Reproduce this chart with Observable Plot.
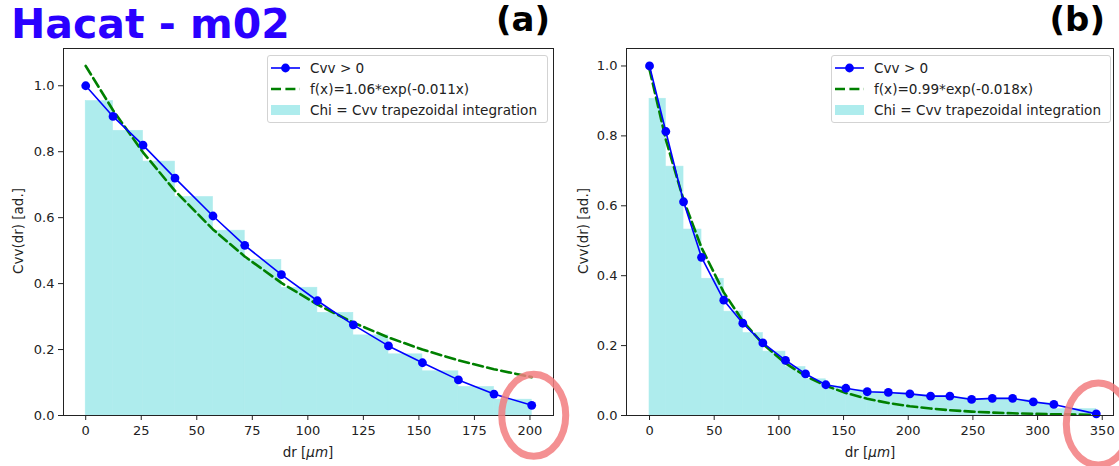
<!DOCTYPE html>
<html>
<head>
<meta charset="utf-8">
<script src="https://cdn.jsdelivr.net/npm/d3@7"></script>
<script src="https://cdn.jsdelivr.net/npm/@observablehq/plot@0.6"></script>
<style>
  body { margin: 0; background: #fff; }
  #root { position: relative; width: 1119px; height: 466px; overflow: hidden; font-family: "DejaVu Sans", sans-serif; color: #222; }
  .abs { position: absolute; white-space: nowrap; }
  .title { left: 11px; top: 0px; font-size: 41px; font-weight: bold; color: #2a00ff; }
  .panel { font-size: 34px; font-weight: bold; color: #000; }
  .ylab { font-size: 13.5px; transform: translate(-50%, -50%) rotate(-90deg); }
  .xlab { font-size: 13.5px; transform: translate(-50%, -50%); }
  .legend { border: 1px solid #d3d3d3; border-radius: 3px; background: rgba(255,255,255,0.85); height: 66px; font-size: 13.6px; }
  .row { position: absolute; left: 0; height: 20px; transform: translateY(-50%); display: flex; align-items: center; }
  .row svg { flex: none; }
  .row span { margin-left: 10px; }
</style>
</head>
<body>
<div id="root">
  <div id="pa" class="abs" style="left:0;top:0"></div>
  <div id="pb" class="abs" style="left:560px;top:0"></div>
  <div class="abs title">Hacat - m02</div>
  <div class="abs panel" style="right:569px;top:-1px">(a)</div>
  <div class="abs panel" style="right:14px;top:-1px">(b)</div>
  <div class="abs ylab" style="left:18px;top:231px">Cvv(dr) [ad.]</div>
  <div class="abs ylab" style="left:583px;top:231px">Cvv(dr) [ad.]</div>
  <div class="abs xlab" style="left:308px;top:452px">dr [<i>μm</i>]</div>
  <div class="abs xlab" style="left:870px;top:452px">dr [<i>μm</i>]</div>
  <div id="lega" class="abs legend" style="left:267px;top:55px;width:279px"></div>
  <div id="legb" class="abs legend" style="left:831px;top:55px;width:278px"></div>
</div>
<script>
// ---- data ----
const drA = [0, 12.3, 25.8, 40.2, 57.3, 71.6, 88.1, 104.3, 120.5, 136.3, 151.6, 167.8, 183.8, 200.8];
const cvvA = [1.0, 0.907, 0.82, 0.72, 0.605, 0.516, 0.427, 0.348, 0.275, 0.211, 0.16, 0.108, 0.065, 0.031];
const drB = [0, 12.6, 26.3, 40.2, 57.4, 72.1, 87.6, 105.1, 120.6, 136.3, 151.8, 168.3, 184.6, 201.3, 217.3, 232.2, 249.0, 265.0, 280.7, 296.7, 312.6, 345.4];
const cvvB = [1.0, 0.8125, 0.6115, 0.4525, 0.330, 0.264, 0.2076, 0.158, 0.119, 0.088, 0.078, 0.068, 0.066, 0.062, 0.0554, 0.0554, 0.046, 0.049, 0.049, 0.039, 0.0316, 0.0046];
// fit parameters shown in the legends
const fitAmp = [1.06, 0.99];
const fitRate = [-0.011, -0.018];
const fitLabels = ["f(x)=1.06*exp(-0.011x)", "f(x)=0.99*exp(-0.018x)"];
const seriesLabels = ["Cvv > 0", "Chi = Cvv trapezoidal integration"];
const xTicksA = [0, 25, 50, 75, 100, 125, 150, 175, 200];
const xTicksB = [0, 50, 100, 150, 200, 250, 300, 350];
const yTicks = [0, 0.2, 0.4, 0.6, 0.8, 1.0];

const BLUE = "#0000ff", GREEN = "#008000", CYAN = "#aeeced", HIGHLIGHT = "#f27d7f";

// hand-drawn style highlight loop around the last point
const loopSymbol = {
  draw(ctx) {
    const rx = 32, ry = 41, k = 0.5523;
    ctx.moveTo(rx, 0);
    ctx.bezierCurveTo(rx, ry * k, rx * k, ry, 0, ry);
    ctx.bezierCurveTo(-rx * k, ry, -rx, ry * k, -rx, 0);
    ctx.bezierCurveTo(-rx, -ry * k, -rx * k, -ry, 0, -ry);
    ctx.bezierCurveTo(rx * k, -ry, rx, -ry * k, rx, 0);
    ctx.closePath();
  }
};

function panel(dr, cvv, amp, rate, xDomain, yDomain, xTicks, opts) {
  const pts = dr.map((x, i) => ({x, y: cvv[i]}));
  const fit = dr.map(x => ({x, y: amp * Math.exp(rate * x)}));
  const bars = dr.slice(0, -1).map((x, i) => ({x1: x, x2: dr[i + 1], h: (cvv[i] + cvv[i + 1]) / 2}));
  return Plot.plot({
    width: opts.width, height: 466,
    marginLeft: opts.ml, marginRight: opts.mr, marginTop: 48, marginBottom: 51,
    style: {fontFamily: "DejaVu Sans", fontSize: "13px", color: "#222", background: "transparent", overflow: "visible"},
    x: {domain: xDomain},
    y: {domain: yDomain},
    marks: [
      Plot.rect(bars, {x1: "x1", x2: "x2", y1: () => 0, y2: "h", fill: CYAN, stroke: CYAN, strokeWidth: 0.6}),
      Plot.line(fit, {x: "x", y: "y", stroke: GREEN, strokeWidth: 2.6, strokeDasharray: "10,4.4"}),
      Plot.line(pts, {x: "x", y: "y", stroke: BLUE, strokeWidth: 1.6}),
      Plot.dot(pts, {x: "x", y: "y", r: 4.4, fill: BLUE}),
      Plot.frame({stroke: "#222", strokeWidth: 1}),
      Plot.axisX({ticks: xTicks, tickSize: 5, tickPadding: 5, tickFormat: d => String(d), label: null}),
      Plot.axisY({ticks: yTicks, tickSize: 5, tickPadding: 4, tickFormat: d => d.toFixed(1), label: null}),
      Plot.dot(pts.slice(-1), {x: "x", y: "y", symbol: loopSymbol, r: 1, fill: "none",
        stroke: HIGHLIGHT, strokeOpacity: 0.85, strokeWidth: 7, dx: 2, dy: 10})
    ]
  });
}

document.getElementById("pa").appendChild(
  panel(drA, cvvA, fitAmp[0], fitRate[0], [-10.0, 210.6], [0, 1.113], xTicksA, {width: 560, ml: 63, mr: 7}));
document.getElementById("pb").appendChild(
  panel(drB, cvvB, fitAmp[1], fitRate[1], [-17.8, 358.7], [0, 1.05], xTicksB, {width: 559, ml: 66, mr: 6}));

function legend(el, fitLabel, sx) {
  const rows = [
    {y: 11.5, svg: `<line x1="0" y1="5" x2="29" y2="5" stroke="${BLUE}" stroke-width="1.6"/><circle cx="14.5" cy="5" r="4.4" fill="${BLUE}"/>`, text: seriesLabels[0]},
    {y: 33, svg: `<line x1="0" y1="5" x2="29" y2="5" stroke="${GREEN}" stroke-width="2.6" stroke-dasharray="10,4.4"/>`, text: fitLabel},
    {y: 54, svg: `<rect x="0" y="0" width="29" height="10" fill="${CYAN}"/>`, text: seriesLabels[1]}
  ];
  rows.forEach(r => {
    const d = document.createElement("div");
    d.className = "row";
    d.style.top = r.y + "px";
    d.style.left = sx + "px";
    d.innerHTML = `<svg width="29" height="10">${r.svg}</svg><span>${r.text}</span>`;
    el.appendChild(d);
  });
}
legend(document.getElementById("lega"), fitLabels[0], 3);
legend(document.getElementById("legb"), fitLabels[1], 3);
</script>
</body>
</html>
